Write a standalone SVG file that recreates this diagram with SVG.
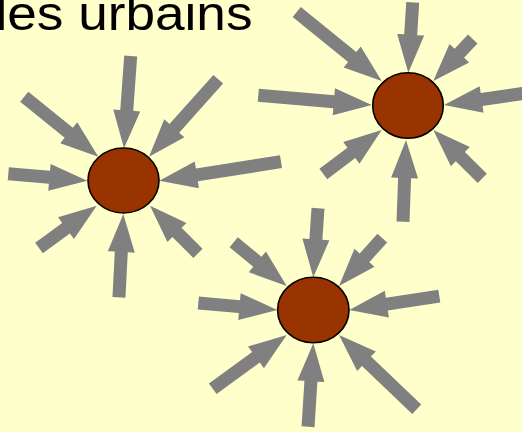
<svg xmlns="http://www.w3.org/2000/svg" width="522" height="432" viewBox="0 0 522 432">
<style>
.bg{fill:#FFFFCC}
.arr{fill:#808080}
.node{fill:#993300;stroke:#000;stroke-width:1.6}
.title{font-family:"Liberation Sans",Arial,sans-serif;font-size:48px;fill:#000}
</style>
<rect class="bg" x="0" y="0" width="522" height="432"/>
<text class="title" x="-4.5" y="29.5" textLength="257" lengthAdjust="spacingAndGlyphs">les urbains</text>
<g id="connectors">
<!-- cluster 1 -->
<polygon class="arr" transform="translate(124,148.3) rotate(94.15)" points="-92.5,-6.5 -38,-6.5 -38,-13.5 0,0 -38,13.5 -38,6.5 -92.5,6.5"/>
<polygon class="arr" transform="translate(149,156.7) rotate(131.8)" points="-103.9,-6.5 -38,-6.5 -38,-13.5 0,0 -38,13.5 -38,6.5 -103.9,6.5"/>
<polygon class="arr" transform="translate(98.3,156.7) rotate(39)" points="-95.3,-6.5 -38,-6.5 -38,-13.5 0,0 -38,13.5 -38,6.5 -95.3,6.5"/>
<polygon class="arr" transform="translate(87.3,180.7) rotate(5.06)" points="-79.3,-6.5 -38,-6.5 -38,-13.5 0,0 -38,13.5 -38,6.5 -79.3,6.5"/>
<polygon class="arr" transform="translate(159.3,180.7) rotate(171.1)" points="-123.2,-6.5 -38,-6.5 -38,-13.5 0,0 -38,13.5 -38,6.5 -123.2,6.5"/>
<polygon class="arr" transform="translate(96.7,205.7) rotate(-36.2)" points="-71.5,-6.5 -38,-6.5 -38,-13.5 0,0 -38,13.5 -38,6.5 -71.5,6.5"/>
<polygon class="arr" transform="translate(123.3,214) rotate(-87)" points="-83.4,-6.5 -38,-6.5 -38,-13.5 0,0 -38,13.5 -38,6.5 -83.4,6.5"/>
<polygon class="arr" transform="translate(150,205.7) rotate(-135.2)" points="-67.6,-6.5 -38,-6.5 -38,-13.5 0,0 -38,13.5 -38,6.5 -67.6,6.5"/>
<!-- cluster 2 -->
<polygon class="arr" transform="translate(408.3,72.7) rotate(93.6)" points="-70.5,-6.5 -38,-6.5 -38,-13.5 0,0 -38,13.5 -38,6.5 -70.5,6.5"/>
<polygon class="arr" transform="translate(433.3,81) rotate(133.2)" points="-57.6,-6.5 -38,-6.5 -38,-13.5 0,0 -38,13.5 -38,6.5 -57.6,6.5"/>
<polygon class="arr" transform="translate(381.7,81) rotate(39.1)" points="-109.5,-6.5 -38,-6.5 -38,-13.5 0,0 -38,13.5 -38,6.5 -109.5,6.5"/>
<polygon class="arr" transform="translate(371.7,105) rotate(4.9)" points="-113.8,-6.5 -38,-6.5 -38,-13.5 0,0 -38,13.5 -38,6.5 -113.8,6.5"/>
<polygon class="arr" transform="translate(444,105) rotate(171.7)" points="-86.9,-6.5 -38,-6.5 -38,-13.5 0,0 -38,13.5 -38,6.5 -86.9,6.5"/>
<polygon class="arr" transform="translate(381.7,130) rotate(-37)" points="-73.1,-6.5 -38,-6.5 -38,-13.5 0,0 -38,13.5 -38,6.5 -73.1,6.5"/>
<polygon class="arr" transform="translate(406,140) rotate(-87.9)" points="-81.8,-6.5 -38,-6.5 -38,-13.5 0,0 -38,13.5 -38,6.5 -81.8,6.5"/>
<polygon class="arr" transform="translate(433.3,130) rotate(-135.4)" points="-68.8,-6.5 -38,-6.5 -38,-13.5 0,0 -38,13.5 -38,6.5 -68.8,6.5"/>
<!-- cluster 3 -->
<polygon class="arr" transform="translate(313.3,277.3) rotate(93.9)" points="-69.2,-6.5 -38,-6.5 -38,-13.5 0,0 -38,13.5 -38,6.5 -69.2,6.5"/>
<polygon class="arr" transform="translate(339,286) rotate(132.1)" points="-64.6,-6.5 -38,-6.5 -38,-13.5 0,0 -38,13.5 -38,6.5 -64.6,6.5"/>
<polygon class="arr" transform="translate(286.7,286) rotate(39.5)" points="-68.7,-6.5 -38,-6.5 -38,-13.5 0,0 -38,13.5 -38,6.5 -68.7,6.5"/>
<polygon class="arr" transform="translate(277.3,310) rotate(5.06)" points="-79.3,-6.5 -38,-6.5 -38,-13.5 0,0 -38,13.5 -38,6.5 -79.3,6.5"/>
<polygon class="arr" transform="translate(349.3,310) rotate(171.2)" points="-91.1,-6.5 -38,-6.5 -38,-13.5 0,0 -38,13.5 -38,6.5 -91.1,6.5"/>
<polygon class="arr" transform="translate(286.7,335) rotate(-36)" points="-91.4,-6.5 -38,-6.5 -38,-13.5 0,0 -38,13.5 -38,6.5 -91.4,6.5"/>
<polygon class="arr" transform="translate(313.3,343.3) rotate(-86.4)" points="-83.6,-6.5 -38,-6.5 -38,-13.5 0,0 -38,13.5 -38,6.5 -83.6,6.5"/>
<polygon class="arr" transform="translate(339,335) rotate(-136.3)" points="-107.5,-6.5 -38,-6.5 -38,-13.5 0,0 -38,13.5 -38,6.5 -107.5,6.5"/>
</g>
<g id="node1"><ellipse class="node" cx="123.5" cy="180.5" rx="35.5" ry="32.5"/></g>
<g id="node2"><ellipse class="node" cx="408" cy="105.5" rx="35.3" ry="32.8"/></g>
<g id="node3"><ellipse class="node" cx="313.3" cy="310" rx="35.7" ry="32.7"/></g>
</svg>
